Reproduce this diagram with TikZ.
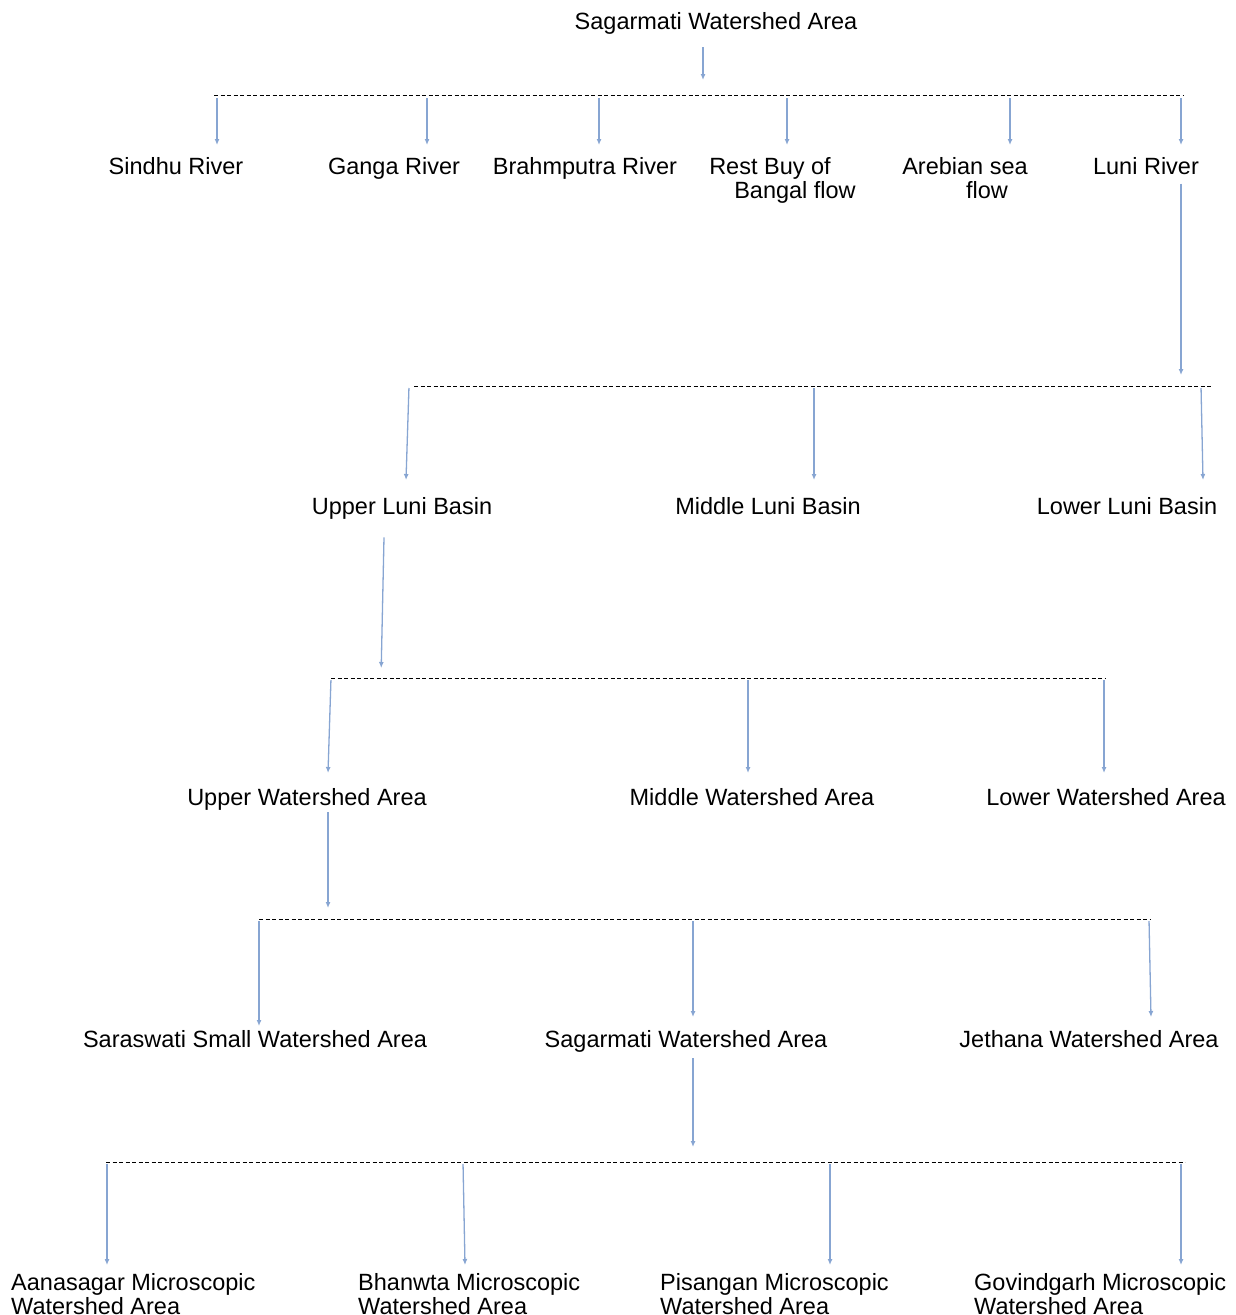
\documentclass[tikz,border=0pt]{standalone}
\usepackage{fontspec}
\setmainfont{Liberation Sans}
\usetikzlibrary{arrows.meta}
\definecolor{linkblue}{RGB}{135,165,210}

\begin{document}
\begin{tikzpicture}[x=1pt,y=-1pt,
  every node/.style={inner sep=0pt,anchor=north,font=\fontsize{23.5}{24}\selectfont},
  link/.style={draw=linkblue,line width=1.3pt,-{Latex[length=6pt,width=5pt]}},
  bar/.style={draw=black,line width=0.9pt,dash pattern=on 4pt off 2.5pt}]
\useasboundingbox (0,0) rectangle (1235,1315);
% level 0
\node (top) at (716,12) {Sagarmati Watershed Area};
% level 1
\node (sindhu) at (176,157) {Sindhu River};
\node (ganga) at (394,157) {Ganga River};
\node (brahm) at (585,157) {Brahmputra River};
\node[align=center] (restbay) at (782.5,157) {Rest Buy of\hspace*{25pt}\\\hspace*{25pt}Bangal flow};
\node[align=center] (arebian) at (976,157) {Arebian sea\hspace*{22pt}\\\hspace*{22pt}flow};
\node (luni) at (1146,157) {Luni River};
% level 2
\node (uluni) at (402,497) {Upper Luni Basin};
\node (mluni) at (768,497) {Middle Luni Basin};
\node (lluni) at (1127,497) {Lower Luni Basin};
% level 3
\node (uwa) at (307,788) {Upper Watershed Area};
\node (mwa) at (752,788) {Middle Watershed Area};
\node (lwa) at (1106,788) {Lower Watershed Area};
% level 4
\node (saraswati) at (255,1030) {Saraswati Small Watershed Area};
\node (sagar) at (686,1030) {Sagarmati Watershed Area};
\node (jethana) at (1089,1030) {Jethana Watershed Area};
% level 5
\node[anchor=north west,align=left] (aana) at (11,1273) {Aanasagar Microscopic\\Watershed Area};
\node[anchor=north west,align=left] (bhanwta) at (358,1273) {Bhanwta Microscopic\\Watershed Area};
\node[anchor=north west,align=left] (pisangan) at (660,1273) {Pisangan Microscopic\\Watershed Area};
\node[anchor=north west,align=left] (govind) at (974,1273) {Govindgarh Microscopic\\Watershed Area};

% dashed bars
\coordinate (b1l) at (214,95);  \coordinate (b1r) at (1183,95);
\coordinate (b2l) at (414,386); \coordinate (b2r) at (1213,386);
\coordinate (b3l) at (331,678); \coordinate (b3r) at (1106,678);
\coordinate (b4l) at (259,919); \coordinate (b4r) at (1150,919);
\coordinate (b5l) at (106,1162); \coordinate (b5r) at (1185,1162);
\foreach \i in {1,...,5}{
\draw[bar] (b\i l) -- (b\i r);};

% parent to bar
\draw[link,shorten >=15pt] ([xshift=-13pt,yshift=-13pt]top.south) -- ([xshift=-13pt]top.south |- b1l);
\draw[link,shorten >=11pt] ([xshift=35pt,yshift=-9pt]luni.south) -- ([xshift=35pt]luni.south |- b2l);
\draw[link,shorten >=10pt] ([xshift=-18pt,yshift=-18pt]uluni.south) -- ([xshift=-21pt]uluni.south |- b3l);
\draw[link,shorten >=11pt] ([xshift=21pt,yshift=-2pt]uwa.south) -- ([xshift=21pt]uwa.south |- b4l);
\draw[link,shorten >=15pt] ([xshift=7pt,yshift=-6pt]sagar.south) -- ([xshift=7pt]sagar.south |- b5l);

% bar to children
\draw[link,shorten <=3pt] ([xshift=41pt]sindhu.north |- b1l) -- ([xshift=41pt,yshift=12pt]sindhu.north);
\draw[link,shorten <=3pt] ([xshift=33pt]ganga.north |- b1l) -- ([xshift=33pt,yshift=12pt]ganga.north);
\draw[link,shorten <=3pt] ([xshift=14pt]brahm.north |- b1l) -- ([xshift=14pt,yshift=12pt]brahm.north);
\draw[link,shorten <=3pt] ([xshift=4.5pt]restbay.north |- b1l) -- ([xshift=4.5pt,yshift=12pt]restbay.north);
\draw[link,shorten <=3pt] ([xshift=34pt]arebian.north |- b1l) -- ([xshift=34pt,yshift=12pt]arebian.north);
\draw[link,shorten <=3pt] ([xshift=35pt]luni.north |- b1l) -- ([xshift=35pt,yshift=12pt]luni.north);

\draw[link,shorten <=2pt] ([xshift=7pt]uluni.north |- b2l) -- ([xshift=4pt,yshift=17pt]uluni.north);
\draw[link,shorten <=2pt] ([xshift=46pt]mluni.north |- b2l) -- ([xshift=46pt,yshift=17pt]mluni.north);
\draw[link,shorten <=2pt] ([xshift=74pt]lluni.north |- b2l) -- ([xshift=76pt,yshift=17pt]lluni.north);

\draw[link,shorten <=2pt] ([xshift=24pt]uwa.north |- b3l) -- ([xshift=21pt,yshift=15pt]uwa.north);
\draw[link,shorten <=2pt] ([xshift=-4pt]mwa.north |- b3l) -- ([xshift=-4pt,yshift=15pt]mwa.north);
\draw[link,shorten <=2pt] ([xshift=-2pt]lwa.north |- b3l) -- ([xshift=-2pt,yshift=15pt]lwa.north);

\draw[link,shorten <=2pt] ([xshift=4pt]saraswati.north |- b4l) -- ([xshift=4pt,yshift=4pt]saraswati.north);
\draw[link,shorten <=2pt] ([xshift=7pt]sagar.north |- b4l) -- ([xshift=7pt,yshift=13pt]sagar.north);
\draw[link,shorten <=2pt] ([xshift=60pt]jethana.north |- b4l) -- ([xshift=62pt,yshift=13pt]jethana.north);

\draw[link,shorten <=2pt] ([xshift=96pt]aana.north west |- b5l) -- ([xshift=96pt,yshift=8pt]aana.north west);
\draw[link,shorten <=2pt] ([xshift=105pt]bhanwta.north west |- b5l) -- ([xshift=107pt,yshift=8pt]bhanwta.north west);
\draw[link,shorten <=2pt] ([xshift=170pt]pisangan.north west |- b5l) -- ([xshift=170pt,yshift=8pt]pisangan.north west);
\draw[link,shorten <=2pt] ([xshift=207pt]govind.north west |- b5l) -- ([xshift=207pt,yshift=8pt]govind.north west);
\end{tikzpicture}
\end{document}
